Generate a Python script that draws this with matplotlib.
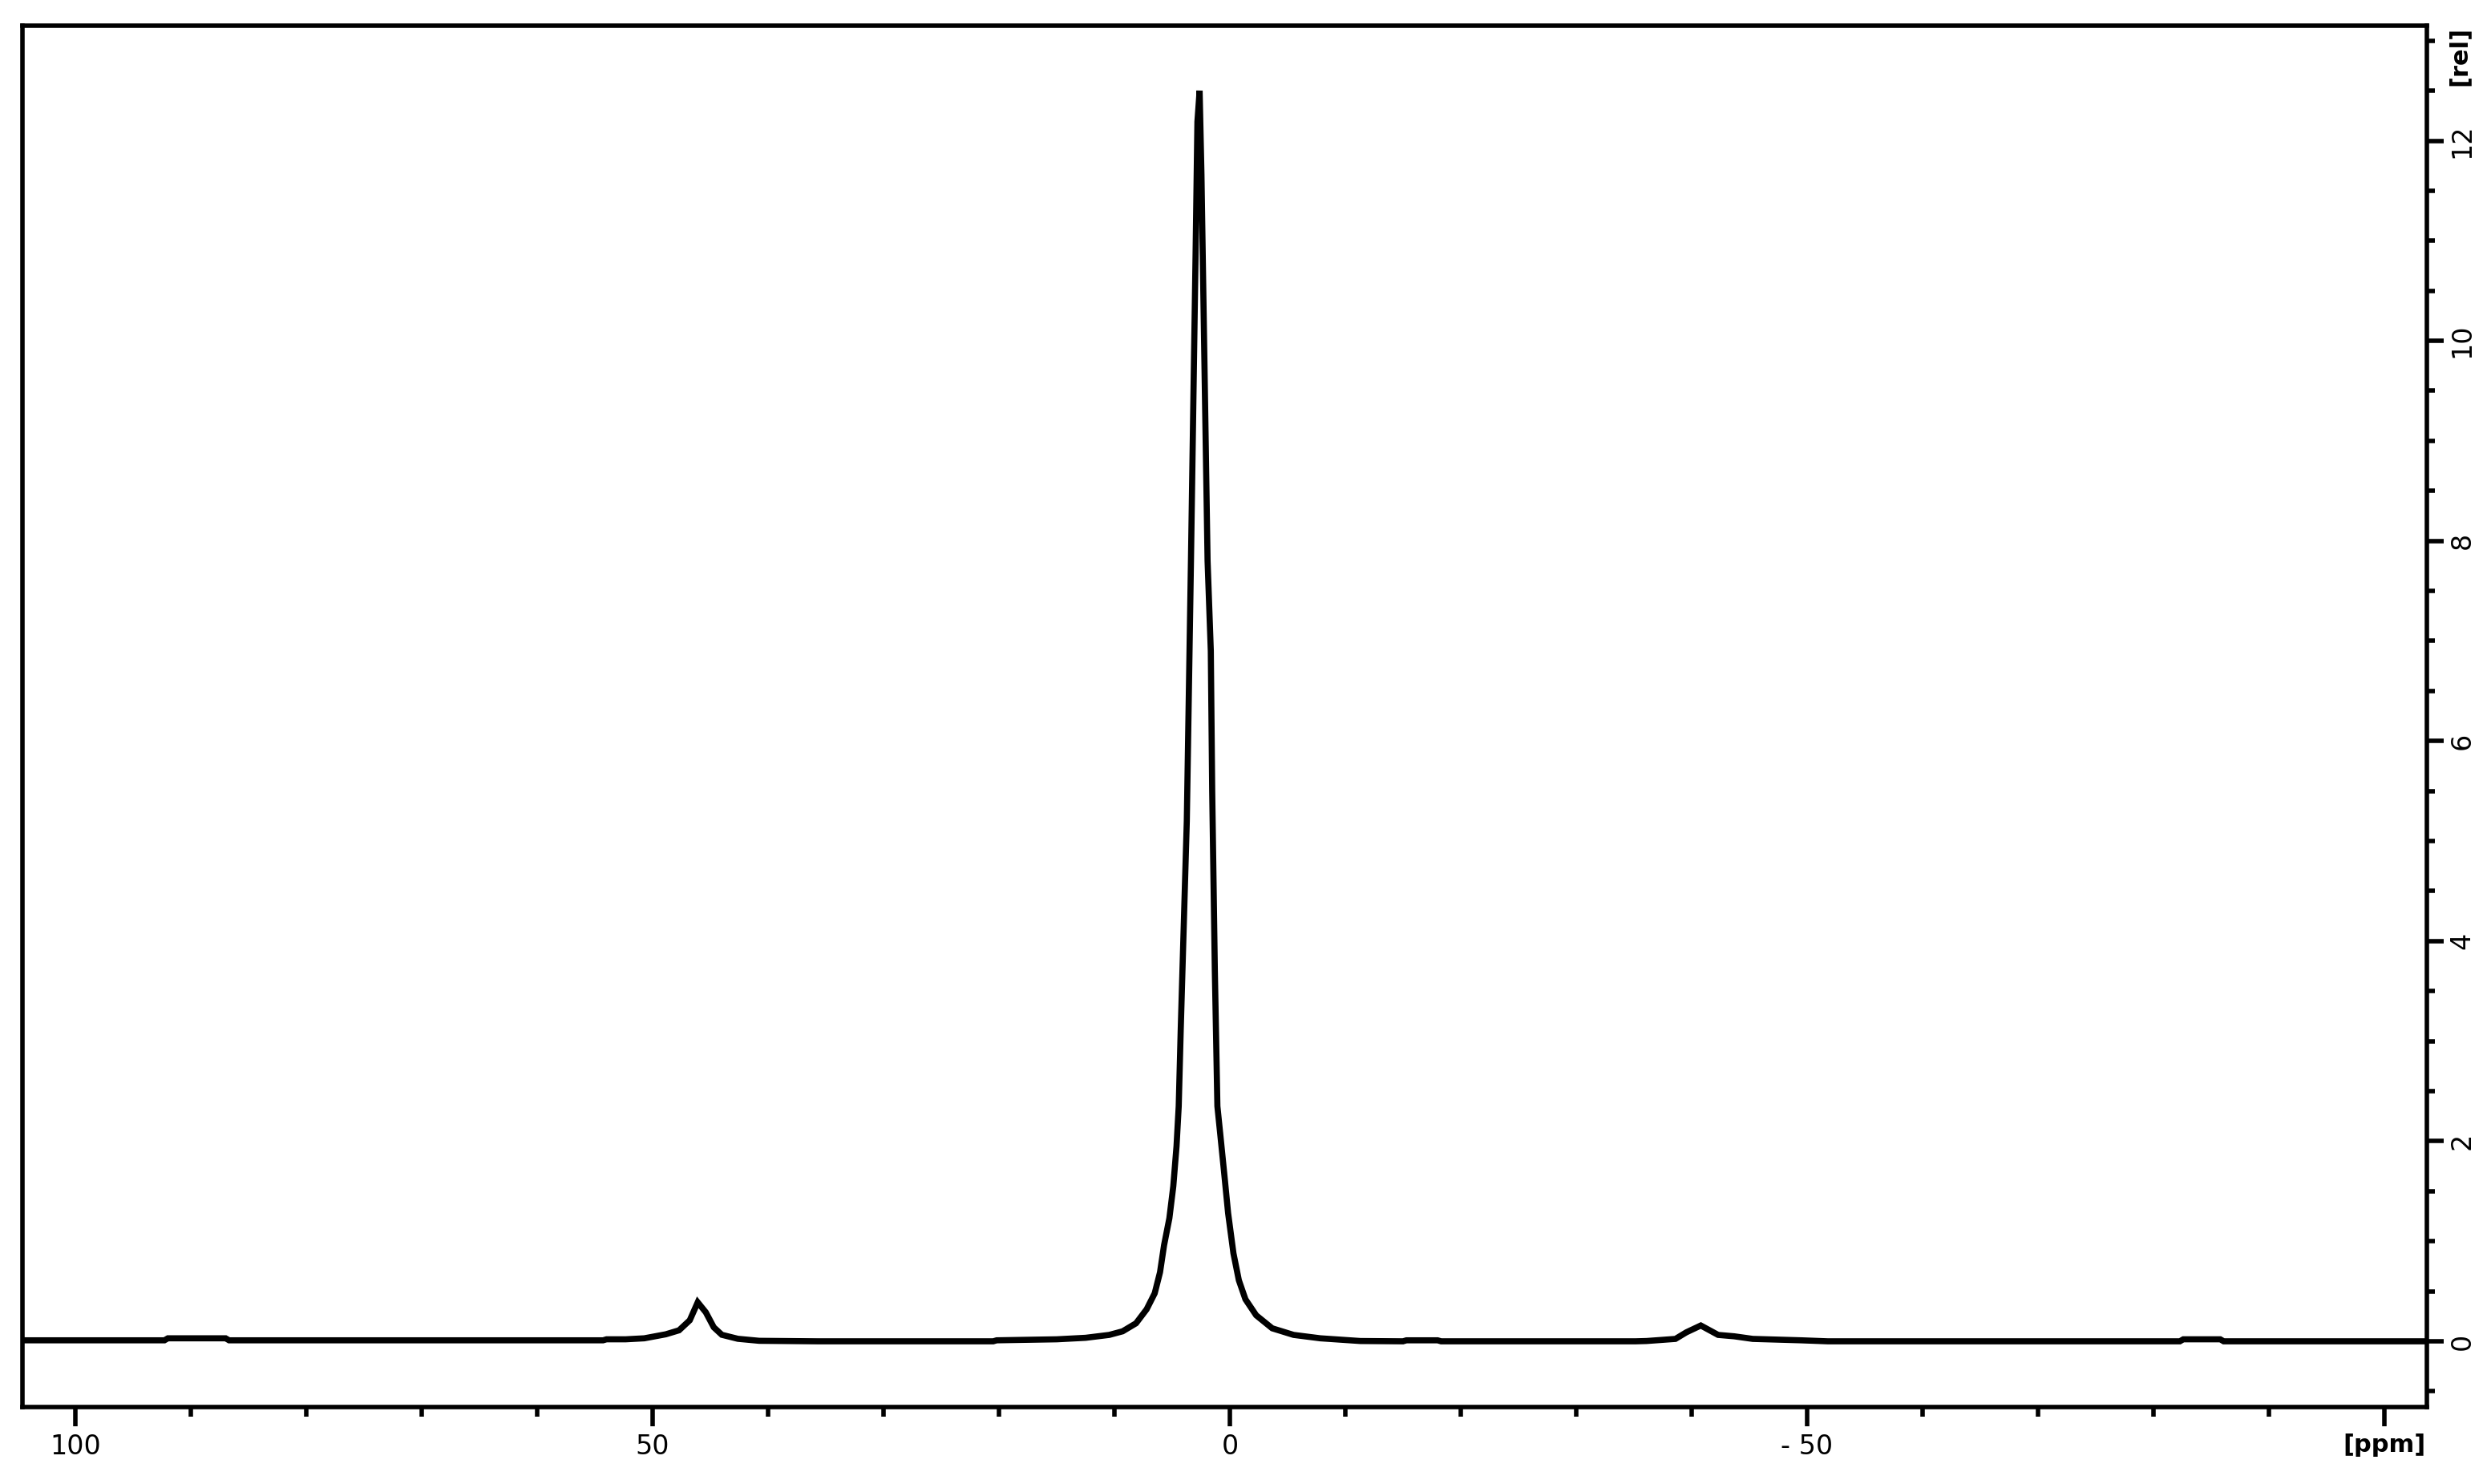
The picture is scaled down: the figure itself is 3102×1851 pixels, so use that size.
import numpy as np
import matplotlib.pyplot as plt
import matplotlib.transforms as mtransforms
from matplotlib.ticker import MultipleLocator, FixedLocator, FixedFormatter

# spectrum: chemical shift (ppm) and intensity (rel)
ppm = [104.6, 92.3, 92.0, 87.0, 86.7, 54.3, 54.0, 52.35, 50.73, 48.87, 47.72,
       46.79, 46.10, 45.40, 44.71, 44.01, 42.62, 40.77, 35.7, 20.5, 20.2,
       15.0, 12.5, 10.45, 9.29, 8.13, 7.21, 6.51, 6.05, 5.70, 5.24, 4.90,
       4.62, 4.43, 4.26, 3.73, 3.37, 2.97, 2.81, 2.62, 2.46, 1.93, 1.65,
       1.53, 1.30, 1.08, 0.84, 0.49, 0.15, -0.31, -0.78, -1.35, -2.28,
       -3.67, -5.52, -7.84, -11.3, -15.0, -15.3, -18.0, -18.3, -35.15,
       -36.1, -38.6, -39.55, -40.8, -42.3, -43.7, -45.3, -49.5, -51.8,
       -82.3, -82.6, -85.8, -86.1, -103.7]
intensity = [0.01, 0.01, 0.03, 0.03, 0.01, 0.01, 0.02, 0.02, 0.03, 0.07, 0.11,
             0.21, 0.39, 0.29, 0.14, 0.065, 0.025, 0.005, 0.0, 0.0, 0.01,
             0.02, 0.035, 0.064, 0.10, 0.18, 0.32, 0.48, 0.69, 0.96, 1.23, 1.55,
             1.95, 2.35, 3.1, 5.2, 7.8, 10.86, 12.19, 12.5, 11.66, 7.8, 6.9,
             5.5, 3.7, 2.35, 2.08, 1.68, 1.28, 0.88, 0.61, 0.42, 0.26,
             0.13, 0.064, 0.03, 0.003, 0.0, 0.01, 0.01, 0.0, 0.0,
             0.003, 0.024, 0.09, 0.158, 0.064, 0.05, 0.024, 0.01, 0.0,
             0.0, 0.02, 0.02, 0.0, 0.0]

x_major = [100, 50, 0, -50, -100]
x_labels = ["100", "50", "0", "- 50", "[ppm]"]
y_major = [0, 2, 4, 6, 8, 10, 12]
y_labels = ["0", "2", "4", "6", "8", "10", "12"]

tick_font = ['Liberation Sans Narrow', 'DejaVu Sans']

fig = plt.figure(figsize=(31.02, 18.51), dpi=100)
ax = fig.add_axes([0.00903, 0.05186, 0.96679, 0.93085])

ax.plot(ppm, intensity, color="black", lw=5.5, solid_joinstyle="miter")

ax.set_xlim(104.6, -103.7)
ax.set_ylim(-0.657, 13.15)

for s in ax.spines.values():
    s.set_linewidth(4)
    s.set_color("black")

# x axis: ppm, reversed
ax.xaxis.set_major_locator(FixedLocator(x_major))
ax.xaxis.set_major_formatter(FixedFormatter(x_labels))
ax.xaxis.set_minor_locator(MultipleLocator(10))
ax.tick_params(axis="x", which="major", length=17, width=4, pad=7, labelsize=24)
ax.tick_params(axis="x", which="minor", length=8.5, width=4)
for lab in ax.get_xticklabels():
    lab.set_family(tick_font)
    if lab.get_text() == "[ppm]":
        lab.set_family("DejaVu Sans")
        lab.set_fontweight("bold")
        lab.set_fontsize(22)

# y axis on the right, rotated labels
ax.yaxis.tick_right()
ax.yaxis.set_major_locator(FixedLocator(y_major))
ax.yaxis.set_major_formatter(FixedFormatter(y_labels))
ax.yaxis.set_minor_locator(MultipleLocator(0.5))
ax.tick_params(axis="y", which="major", length=15, width=4, pad=5, labelsize=24)
ax.tick_params(axis="y", which="minor", length=7, width=4)
for lab in ax.get_yticklabels():
    lab.set_family(tick_font)
    lab.set_rotation(90)
    lab.set_va("center")

# unit label at the top of the intensity axis
offset = mtransforms.ScaledTranslation(26 / 100, 0, fig.dpi_scale_trans)
ax.text(1.0, 12.85, "[rel]", transform=ax.get_yaxis_transform() + offset,
        rotation=90, ha="left", va="center", fontsize=22, fontweight="bold",
        family="DejaVu Sans")

fig.savefig("out.png", dpi=100)
